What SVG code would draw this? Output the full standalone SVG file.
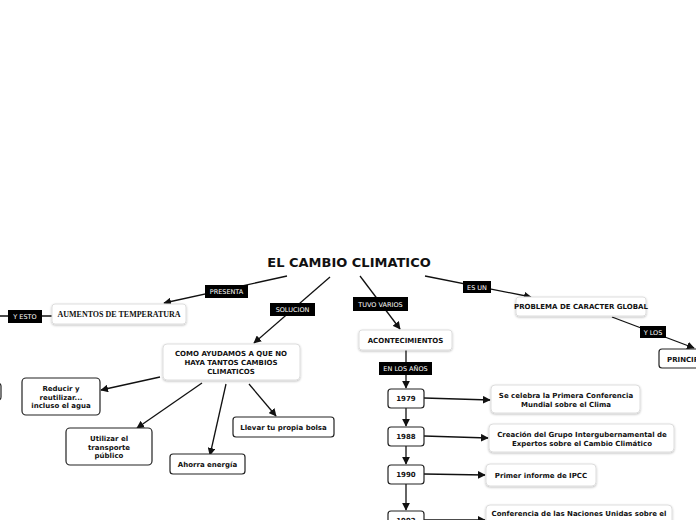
<svg xmlns="http://www.w3.org/2000/svg" width="696" height="520" viewBox="0 0 696 520">
<style>
text{font-family:"DejaVu Sans",Verdana,sans-serif;font-weight:bold;font-size:7px;fill:#111;text-anchor:middle}
.lbl rect{fill:#000}
.lbl text{fill:#fff;font-weight:normal;font-size:6.5px}
.n rect{fill:#fff;stroke:#ddd;stroke-width:1;filter:url(#sh)}
.d rect{fill:#fff;stroke:#222;stroke-width:1.2}
.c line{stroke:#111;stroke-width:1.3;marker-end:url(#a)}
.c .p{marker-end:none}
</style>
<defs>
<marker id="a" viewBox="0 0 10 10" refX="9" refY="5" markerWidth="6" markerHeight="6" orient="auto"><path d="M0,0L10,5L0,10z" fill="#111"/></marker>
<filter id="sh" x="-10%" y="-20%" width="120%" height="150%"><feDropShadow dx="0" dy="1" stdDeviation="1" flood-color="#000" flood-opacity="0.25"/></filter>
</defs>
<rect width="696" height="520" fill="#fff"/>
<g class="c">
<line x1="287" y1="276" x2="164" y2="303"/>
<line class="p" x1="52" y1="316" x2="0" y2="316"/>
<line x1="330" y1="277" x2="254" y2="343"/>
<line x1="160" y1="377" x2="101" y2="390"/>
<line x1="202" y1="383" x2="137" y2="428"/>
<line x1="226" y1="384" x2="210" y2="455"/>
<line x1="249" y1="384" x2="276" y2="416"/>
<line x1="360" y1="276" x2="400" y2="329"/>
<line x1="406" y1="350" x2="406" y2="388"/>
<line x1="406" y1="408" x2="406" y2="426"/>
<line x1="406" y1="446" x2="406" y2="464"/>
<line x1="406" y1="484" x2="406" y2="510"/>
<line x1="424" y1="398" x2="490" y2="400"/>
<line x1="424" y1="436" x2="488" y2="438"/>
<line x1="424" y1="474" x2="485" y2="475"/>
<line x1="424" y1="520" x2="485" y2="520"/>
<line x1="425" y1="276" x2="531" y2="297"/>
<line x1="612" y1="317" x2="694" y2="348"/>
</g>
<text x="349" y="267" style="font-size:13px">EL CAMBIO CLIMATICO</text>
<g id="presenta" class="lbl"><rect x="205" y="285" width="43" height="13"/><text x="226.5" y="294">PRESENTA</text></g>
<g id="yesto" class="lbl"><rect x="8" y="310" width="34" height="13"/><text x="25" y="319">Y ESTO</text></g>
<g id="solucion" class="lbl"><rect x="270" y="303" width="45" height="13"/><text x="292.5" y="312">SOLUCION</text></g>
<g id="tuvo" class="lbl"><rect x="353" y="297" width="55" height="14"/><text x="380.5" y="306.5">TUVO VARIOS</text></g>
<g id="enlos" class="lbl"><rect x="379" y="362" width="53" height="13"/><text x="405.5" y="371">EN LOS AÑOS</text></g>
<g id="esun" class="lbl"><rect x="463" y="281" width="28" height="12"/><text x="477" y="290">ES UN</text></g>
<g id="ylos" class="lbl"><rect x="640" y="326" width="26" height="12"/><text x="653" y="335">Y LOS</text></g>
<g id="aumentos" class="n"><rect x="52" y="304" width="134" height="20" rx="3"/><text x="119" y="317" style="font-family:'Liberation Serif',serif;font-size:8px">AUMENTOS DE TEMPERATURA</text></g>
<g id="partial" class="d"><rect x="-20" y="383" width="21" height="17" rx="3"/></g>
<g id="como" class="n"><rect x="163" y="344" width="137" height="36" rx="4"/><text x="231" y="356">COMO AYUDAMOS A QUE NO</text><text x="231" y="365">HAYA TANTOS CAMBIOS</text><text x="231" y="374">CLIMATICOS</text></g>
<g id="reducir" class="d"><rect x="22" y="378" width="78" height="37" rx="4"/><text x="61" y="391">Reducir y</text><text x="61" y="400">reutilizar...</text><text x="61" y="408">incluso el agua</text></g>
<g id="utilizar" class="d"><rect x="66" y="428" width="86" height="37" rx="4"/><text x="109" y="441">Utilizar el</text><text x="109" y="450">transporte</text><text x="109" y="458">público</text></g>
<g id="ahorra" class="d"><rect x="170" y="454" width="75" height="20" rx="3"/><text x="207.5" y="467">Ahorra energía</text></g>
<g id="llevar" class="d"><rect x="233" y="417" width="101" height="20" rx="3"/><text x="283.5" y="430">Llevar tu propia bolsa</text></g>
<g id="acont" class="n"><rect x="359" y="330" width="93" height="20" rx="3"/><text x="405.5" y="343">ACONTECIMIENTOS</text></g>
<g id="y1979" class="d"><rect x="388" y="389" width="36" height="19" rx="3"/><text x="406" y="401">1979</text></g>
<g id="y1988" class="d"><rect x="388" y="427" width="36" height="19" rx="3"/><text x="406" y="439">1988</text></g>
<g id="y1990" class="d"><rect x="388" y="465" width="36" height="19" rx="3"/><text x="406" y="477">1990</text></g>
<g id="y1992" class="d"><rect x="388" y="511" width="36" height="19" rx="3"/><text x="406" y="523">1992</text></g>
<g id="b1" class="n"><rect x="491" y="385" width="149" height="28" rx="4"/><text x="566" y="398">Se celebra la Primera Conferencia</text><text x="566" y="407">Mundial sobre el Clima</text></g>
<g id="b2" class="n"><rect x="489" y="424" width="185" height="28" rx="4"/><text x="582" y="437">Creación del Grupo Intergubernamental de</text><text x="582" y="446">Expertos sobre el Cambio Climático</text></g>
<g id="b3" class="n"><rect x="486" y="464" width="110" height="22" rx="4"/><text x="541" y="478">Primer informe de IPCC</text></g>
<g id="b4" class="n"><rect x="486" y="505" width="186" height="30" rx="4"/><text x="579" y="516">Conferencia de las Naciones Unidas sobre el</text></g>
<g id="problema" class="n"><rect x="516" y="297" width="130" height="19" rx="3"/><text x="581" y="309">PROBLEMA DE CARACTER GLOBAL</text></g>
<g id="princi" class="d"><rect x="659" y="349" width="70" height="19" rx="3"/><text x="667" y="362" style="text-anchor:start">PRINCIPALES</text></g>
</svg>
